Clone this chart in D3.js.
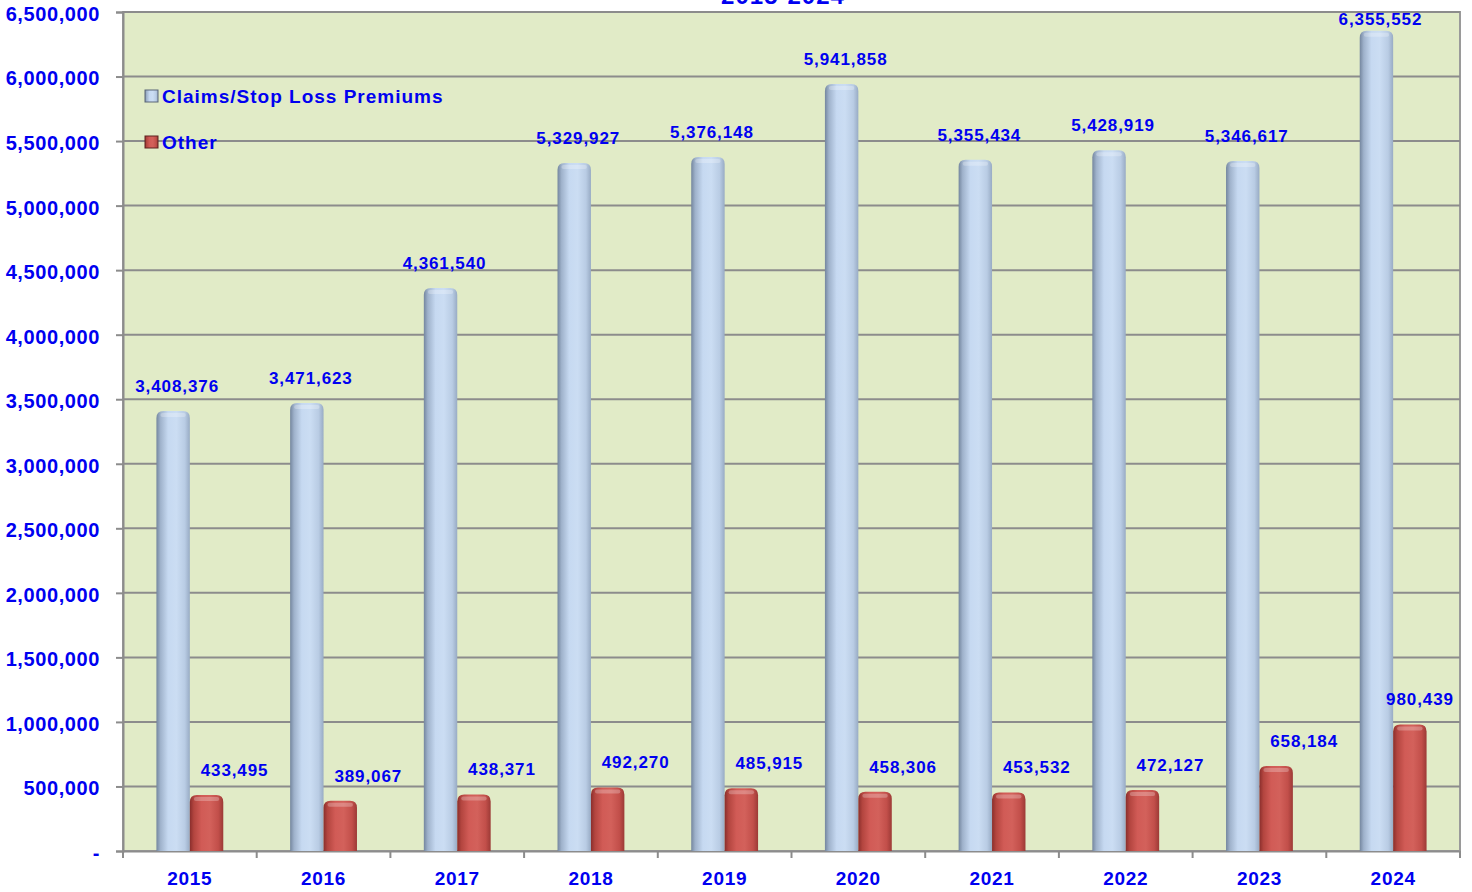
<!DOCTYPE html>
<html>
<head>
<meta charset="utf-8">
<script src="https://cdn.jsdelivr.net/npm/d3@7"></script>
<style>
	body { margin: 0; background: #fff; }
	svg { display: block; }
	text { font-family: "Liberation Sans", Arial, sans-serif; font-weight: bold; fill: #0000f0; }
</style>
</head>
<body>
<div id="chart"></div>
<script>
const years = ['2015', '2016', '2017', '2018', '2019', '2020', '2021', '2022', '2023', '2024']
const claims = [3408376, 3471623, 4361540, 5329927, 5376148, 5941858, 5355434, 5428919, 5346617, 6355552]
const other = [433495, 389067, 438371, 492270, 485915, 458306, 453532, 472127, 658184, 980439]
const seriesNames = ['Claims/Stop Loss Premiums', 'Other']
const yTicks = d3.range(0, 6500001, 500000)
const title = '2015-2024'

const width = 1472, height = 892
const margin = { top: 12, right: 12, bottom: 41, left: 123 }

const svg = d3.select('#chart').append('svg')
	.attr('width', width)
	.attr('height', height)

const defs = svg.append('defs')

function cylGrad(id, stops) {
	const g = defs.append('linearGradient').attr('id', id)
		.attr('x1', 0).attr('x2', 1).attr('y1', 0).attr('y2', 0)
	stops.forEach(([o, c]) => g.append('stop').attr('offset', o).attr('stop-color', c))
}
cylGrad('gBlue', [[0, '#74869e'], [0.12, '#9fb2cb'], [0.35, '#c6d9f1'], [0.6, '#cbddf3'], [0.85, '#b9cce4'], [1, '#98abc4']])
cylGrad('gRed', [[0, '#8a2e2c'], [0.12, '#b3453f'], [0.35, '#d15b56'], [0.6, '#d3615b'], [0.85, '#c24f4a'], [1, '#9c3a36']])

const x = d3.scaleBand()
	.domain(years)
	.range([margin.left, width - margin.right])

const y = d3.scaleLinear()
	.domain([0, 6500000])
	.range([height - margin.bottom, margin.top])

// title (cut off at top edge like the source)
svg.append('text')
	.attr('x', 783).attr('y', 4)
	.attr('text-anchor', 'middle')
	.style('font-size', '24px')
	.style('letter-spacing', '1px')
	.text(title)

// plot background
svg.append('rect')
	.attr('x', margin.left).attr('y', margin.top)
	.attr('width', width - margin.left - margin.right)
	.attr('height', height - margin.top - margin.bottom)
	.attr('fill', '#e1ebc7')
	.attr('stroke', '#9a9a9a')
	.attr('stroke-width', 2)

// gridlines
svg.append('g')
	.selectAll('line')
	.data(yTicks.slice(1))
	.join('line')
	.attr('x1', margin.left).attr('x2', width - margin.right)
	.attr('y1', d => y(d)).attr('y2', d => y(d))
	.attr('stroke', '#8c8c8c')
	.attr('stroke-width', 2)

// y axis
const yAxis = svg.append('g')
	.attr('transform', `translate(${margin.left},0)`)
	.call(d3.axisLeft(y).tickValues(yTicks).tickSize(7).tickPadding(16)
		.tickFormat(d => d === 0 ? '-' : d3.format(',')(d)))
yAxis.select('.domain').attr('stroke', '#8c8c8c').attr('stroke-width', 2)
yAxis.selectAll('.tick line').attr('stroke', '#8c8c8c').attr('stroke-width', 2)
yAxis.selectAll('.tick text')
	.attr('fill', '#0000f0')
	.attr('dy', '0.42em')
	.style('font-size', '20px')
	.style('letter-spacing', '0.6px')

// x axis
const xAxis = svg.append('g')
	.attr('transform', `translate(0,${height - margin.bottom})`)
	.call(d3.axisBottom(x).tickSize(0).tickPadding(21))
xAxis.select('.domain').attr('stroke', '#8c8c8c').attr('stroke-width', 2)
xAxis.selectAll('.tick text')
	.attr('fill', '#0000f0')
	.style('font-size', '19px')
	.style('letter-spacing', '0.7px')

svg.append('g')
	.selectAll('line')
	.data(years.map(d => x(d)).concat([width - margin.right]))
	.join('line')
	.attr('x1', d => d).attr('x2', d => d)
	.attr('y1', height - margin.bottom).attr('y2', height - margin.bottom + 7)
	.attr('stroke', '#8c8c8c')
	.attr('stroke-width', 2)

// bars
const barW = x.bandwidth() * 0.25

function barPath(x0, top, w, bottom) {
	const r = Math.min(7, (bottom - top) / 2)
	return `M${x0},${bottom} L${x0},${top + r} Q${x0},${top} ${x0 + r},${top} L${x0 + w - r},${top} Q${x0 + w},${top} ${x0 + w},${top + r} L${x0 + w},${bottom} Z`
}

const series = [
	{ name: seriesNames[0], values: claims, fill: 'url(#gBlue)', offset: -1, labelDx: 4, labelDy: -19 },
	{ name: seriesNames[1], values: other, fill: 'url(#gRed)', offset: 0, labelDx: 28, labelDy: -19 }
]

series.forEach(s => {
	const g = svg.append('g')
	const bx = d => x(d) + x.bandwidth() / 2 + s.offset * barW

	g.selectAll('path')
		.data(years)
		.join('path')
		.attr('d', (d, i) => barPath(bx(d), y(s.values[i]), barW, y(0)))
		.attr('fill', s.fill)

	// top highlight
	g.selectAll('rect.hl')
		.data(years)
		.join('rect')
		.attr('class', 'hl')
		.attr('x', d => bx(d) + 4)
		.attr('y', (d, i) => y(s.values[i]) + 2)
		.attr('width', barW - 8)
		.attr('height', 4)
		.attr('rx', 2)
		.attr('fill', '#fff')
		.attr('opacity', 0.25)

	g.selectAll('text')
		.data(years)
		.join('text')
		.attr('x', d => Math.min(bx(d) + barW / 2 + s.labelDx, width - margin.right - 40))
		.attr('y', (d, i) => Math.max(y(s.values[i]) + s.labelDy, 25))
		.attr('text-anchor', 'middle')
		.style('font-size', '17px')
		.style('letter-spacing', '0.9px')
		.text((d, i) => d3.format(',')(s.values[i]))
})

// legend
const legend = svg.append('g').attr('transform', 'translate(145,96)')
series.forEach((s, i) => {
	const row = legend.append('g').attr('transform', `translate(0,${i * 46})`)
	row.append('rect')
		.attr('x', 0).attr('y', -6)
		.attr('width', 13).attr('height', 12)
		.attr('fill', s.fill)
		.attr('stroke', i === 0 ? '#5a6678' : '#5e2220')
		.attr('stroke-width', 1)
	row.append('text')
		.attr('x', 17).attr('y', 7)
		.style('font-size', '19px')
		.style('letter-spacing', '1px')
		.text(s.name)
})
</script>
</body>
</html>
